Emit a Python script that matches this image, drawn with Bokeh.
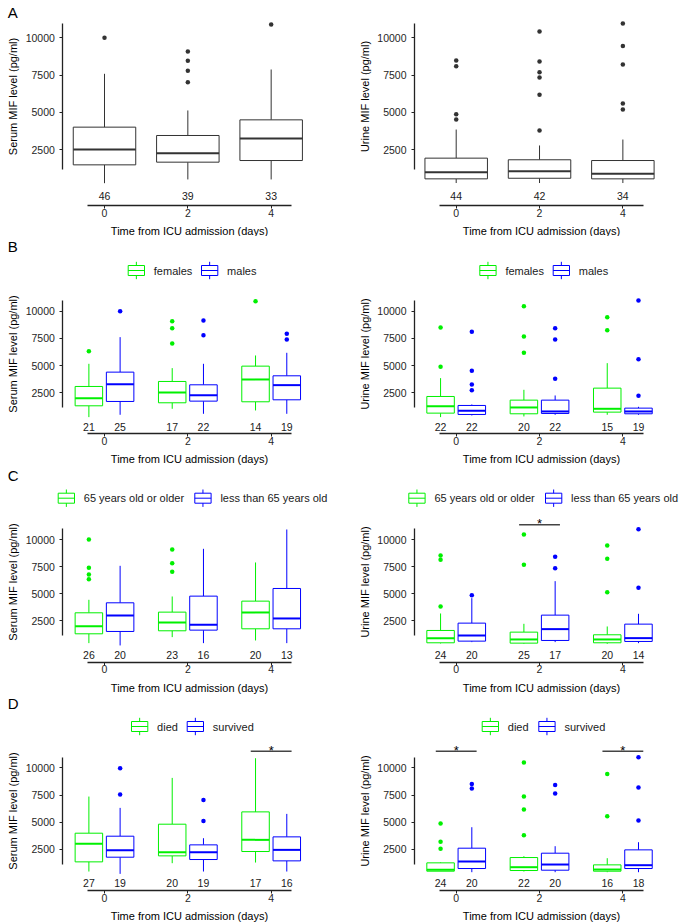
from bokeh.plotting import figure
from bokeh.models import Range1d, LinearAxis, FixedTicker, ColumnDataSource
from bokeh.layouts import gridplot
from bokeh.embed import file_html
from bokeh.resources import INLINE
from bokeh.core.properties import value

# ---------------- data ----------------
days = ["0", "2", "4"]
# box statistics per day: (lower whisker, Q1, median, Q3, upper whisker)
serum_all = [(240, 1470, 2500, 4000, 7580), (490, 1650, 2250, 3440, 5120), (490, 1760, 3240, 4490, 7870)]
serum_all_out = [[10000], [9080, 8460, 7790, 7020], [10890]]
serum_all_n = [46, 39, 33]
urine_all = [(250, 530, 980, 1920, 3840), (250, 570, 1040, 1810, 2770), (250, 530, 870, 1760, 3170)]
urine_all_out = [[8480, 8090, 4870, 4520], [10420, 8410, 7690, 7340, 6170, 3780], [10960, 9440, 8210, 5590, 5190]]
urine_all_n = [44, 42, 34]

serum_females = [(265, 1306, 2010, 3082, 5163), (1031, 1582, 2531, 3541, 4765), (878, 1674, 3724, 4949, 5928)]
serum_females_out = [[6326], [9081, 8438, 7030], [10918]]
serum_females_n = [21, 17, 14]
serum_males = [(480, 1704, 3296, 4398, 7612), (571, 1735, 2286, 3235, 5163), (571, 1857, 3204, 4061, 6173)]
serum_males_out = [[10000], [9142, 7796], [7918, 7398]]
serum_males_n = [25, 22, 19]
urine_females = [(265, 633, 1276, 2163, 3847), (327, 572, 1153, 1827, 2775), (480, 725, 1031, 2929, 5224)]
urine_females_out = [[8500, 4888], [10459, 7673, 6173], [9448, 8255]]
urine_females_n = [22, 20, 15]
urine_males = [(418, 510, 847, 1337, 1429), (480, 602, 786, 1827, 2255), (480, 572, 786, 1092, 1214)]
urine_males_out = [[8102, 4520, 3265, 2745], [8438, 7398, 3786], [10979, 5592, 2225]]
urine_males_n = [22, 22, 19]

serum_old = [(440, 1301, 2008, 3238, 4437), (994, 1578, 2346, 3299, 4744), (686, 1762, 3269, 4314, 7880)]
serum_old_out = [[10000, 7388, 6773, 6343], [9078, 7818, 7019], []]
serum_old_n = [26, 23, 20]
serum_young = [(225, 1516, 2992, 4160, 7572), (440, 1639, 2131, 4775, 9140), (440, 1762, 2715, 5482, 10923)]
serum_young_out = [[], [], []]
serum_young_n = [20, 16, 13]
urine_old = [(410, 471, 901, 1609, 3176), (379, 440, 779, 1455, 2223), (379, 471, 779, 1209, 1977)]
urine_old_out = [[8525, 8125, 3822], [10462, 7664], [9447, 8218, 5144]]
urine_old_n = [24, 25, 20]
urine_young = [(533, 625, 1147, 2285, 4590), (533, 686, 1732, 3023, 6158), (440, 594, 901, 2193, 3145)]
urine_young_out = [[4867], [8402, 7357], [10954, 5543]]
urine_young_n = [20, 17, 14]

serum_died = [(440, 1332, 2992, 3976, 7357), (1209, 1885, 2223, 4806, 9078), (1270, 2285, 3361, 5943, 10892)]
serum_died_out = [[], [], []]
serum_died_n = [27, 20, 17]
serum_surv = [(225, 1762, 2408, 3699, 6312), (440, 1547, 2223, 2900, 3514), (440, 1424, 2438, 3637, 5758)]
serum_surv_out = [[9970, 7541], [7050, 5113], []]
serum_surv_n = [19, 19, 16]
urine_died = [(471, 471, 594, 1240, 1301), (441, 533, 840, 1731, 1854), (379, 471, 625, 1055, 1670)]
urine_died_out = [[4867, 3176, 2531], [10492, 7357, 6158, 3791], [9447, 5543]]
urine_died_n = [24, 22, 16]
urine_surv = [(379, 717, 1363, 2592, 4529), (379, 563, 1086, 2131, 2777), (379, 717, 1024, 2438, 3145)]
urine_surv_out = [[8525, 8095], [8433, 7634], [10984, 8187, 5144]]
urine_surv_n = [20, 20, 18]

y_ticks = [2500, 5000, 7500, 10000]
x_title = "Time from ICU admission (days)"
serum_title = "Serum MIF level (pg/ml)"
urine_title = "Urine MIF level (pg/ml)"

# ---------------- styling / layout ----------------
FONT = "Liberation Sans"
GREEN = "#00F000"
BLUE = "#0000FF"
GREY = "#333333"
PX_X = 83.33
COLS = [dict(left=0, width=340, c0=104.0), dict(left=340, width=345, c0=455.7)]
ROWS = {
    "A": dict(top=0, bottom=236, t2500=149.0, p2500=37.25, axis=205.0, count=195.0, letter=12.3, legend=None),
    "B": dict(top=236, bottom=466, t2500=392.3, p2500=27.22, axis=433.3, count=426.0, letter=246.0, legend=270.0),
    "C": dict(top=466, bottom=696, t2500=620.3, p2500=27.1, axis=661.7, count=654.3, letter=475.0, legend=497.7),
    "D": dict(top=696, bottom=923, t2500=848.7, p2500=27.1, axis=890.3, count=882.7, letter=703.3, legend=726.0),
}


def make_panel(row, col, ylabel, groups, letter=None, legend=None, sig=None):
    R = ROWS[row]
    C = COLS[col]
    upp = 2500.0 / R["p2500"]

    def xd(ax):
        return 1 + (ax - C["c0"]) / PX_X

    def yd(ay):
        return 2500 + (R["t2500"] - ay) * upp

    p = figure(width=C["width"], height=R["bottom"] - R["top"],
               x_range=Range1d(xd(C["left"]), xd(C["left"] + C["width"])),
               y_range=Range1d(yd(R["bottom"]), yd(R["top"])),
               x_axis_type=None, y_axis_type=None, toolbar_location=None,
               output_backend="svg", min_border=0)
    p.outline_line_color = None
    p.background_fill_color = "white"
    p.border_fill_color = "white"

    ng = len(groups)
    if ng == 1:
        offsets, bw = [0.0], 0.75
    else:
        offsets, bw = [-0.1875, 0.1875], 0.33

    count_x, count_t = [], []
    for (stats, outs, ns, color, mcolor), off in zip(groups, offsets):
        xs = [i + 1 + off for i in range(len(days))]
        src = ColumnDataSource(dict(
            x=xs, lo=[s[0] for s in stats], q1=[s[1] for s in stats], med=[s[2] for s in stats],
            q3=[s[3] for s in stats], hi=[s[4] for s in stats],
            xl=[x - bw / 2 for x in xs], xr=[x + bw / 2 for x in xs]))
        p.segment(x0="x", y0="q3", x1="x", y1="hi", source=src, line_color=color, line_width=1)
        p.segment(x0="x", y0="lo", x1="x", y1="q1", source=src, line_color=color, line_width=1)
        p.vbar(x="x", width=bw, top="q3", bottom="q1", source=src, fill_color="white",
               line_color=color, line_width=1)
        p.segment(x0="xl", y0="med", x1="xr", y1="med", source=src, line_color=color, line_width=2)
        ox = [x for x, o in zip(xs, outs) for _ in o]
        oy = [v for o in outs for v in o]
        if ox:
            p.scatter(ox, oy, size=4.5, fill_color=mcolor, line_color=None)
        count_x += xs
        count_t += [str(n) for n in ns]

    p.text(x=count_x, y=[yd(R["count"])] * len(count_x), text=count_t, text_align="center",
           text_baseline="middle", text_font=value(FONT), text_font_size="10.5px", text_color="#1a1a1a")

    if letter:
        p.text(x=[xd(7.3)], y=[yd(R["letter"])], text=[letter], text_align="left",
               text_baseline="middle", text_font=value(FONT), text_font_size="15px", text_color="black")

    if legend:
        ly = R["legend"]
        for (kx, label, color) in legend:
            p.quad(left=[xd(kx)], right=[xd(kx + 16.3)], bottom=[yd(ly + 5)], top=[yd(ly - 5)],
                   fill_color="white", line_color=color, line_width=1)
            p.segment(x0=[xd(kx + 8.15)] * 2, x1=[xd(kx + 8.15)] * 2,
                      y0=[yd(ly - 5), yd(ly + 5)], y1=[yd(ly - 8.7), yd(ly + 8.7)],
                      line_color=color, line_width=1)
            p.segment(x0=[xd(kx)], x1=[xd(kx + 16.3)], y0=[yd(ly)], y1=[yd(ly)],
                      line_color=color, line_width=1)
            p.text(x=[xd(kx + 25.6)], y=[yd(ly)], text=[label], text_align="left",
                   text_baseline="middle", text_font=value(FONT), text_font_size="11px",
                   text_color="#1a1a1a")

    if sig:
        bar_abs, day_idx = sig
        for d in day_idx:
            p.segment(x0=[d - 0.245], x1=[d + 0.245], y0=[yd(bar_abs)], y1=[yd(bar_abs)],
                      line_color="#444444", line_width=1.4)
            p.text(x=[d], y=[yd(bar_abs - 1.2)], text=["*"], text_align="center",
                   text_baseline="alphabetic", text_font=value(FONT), text_font_size="13px",
                   text_color="black")

    yaxis = LinearAxis(fixed_location=0.5, bounds=(1130, 10975),
                       ticker=FixedTicker(ticks=y_ticks), axis_label=ylabel)
    xaxis = LinearAxis(fixed_location=yd(R["axis"]), bounds=(0.8, 3.25),
                       ticker=FixedTicker(ticks=[1, 2, 3]),
                       major_label_overrides={1: days[0], 2: days[1], 3: days[2]},
                       axis_label=x_title)
    for ax in (yaxis, xaxis):
        ax.axis_line_color = "#222222"
        ax.axis_line_width = 1.3
        ax.major_tick_line_color = "#222222"
        ax.major_tick_out = 3
        ax.major_tick_in = 0
        ax.minor_tick_out = 0
        ax.minor_tick_in = 0
        ax.major_label_text_font = FONT
        ax.major_label_text_font_size = "10.5px"
        ax.major_label_text_color = "#262626"
        ax.axis_label_text_font = FONT
        ax.axis_label_text_font_size = "11px"
        ax.axis_label_text_font_style = "normal"
        ax.axis_label_text_color = "black"
    yaxis.major_label_standoff = 5
    yaxis.axis_label_standoff = 3
    xaxis.major_label_standoff = 0
    xaxis.axis_label_standoff = 5
    p.add_layout(yaxis, "left")
    p.add_layout(xaxis, "below")
    return p


grey = lambda s, o, n: (s, o, n, GREY, GREY)
pA1 = make_panel("A", 0, serum_title, [grey(serum_all, serum_all_out, serum_all_n)], letter="A")
pA2 = make_panel("A", 1, urine_title, [grey(urine_all, urine_all_out, urine_all_n)])

pB1 = make_panel("B", 0, serum_title,
                 [(serum_females, serum_females_out, serum_females_n, GREEN, GREEN),
                  (serum_males, serum_males_out, serum_males_n, BLUE, BLUE)], letter="B",
                 legend=[(127.7, "females", GREEN), (201.0, "males", BLUE)])
pB2 = make_panel("B", 1, urine_title,
                 [(urine_females, urine_females_out, urine_females_n, GREEN, GREEN),
                  (urine_males, urine_males_out, urine_males_n, BLUE, BLUE)],
                 legend=[(479.3, "females", GREEN), (552.7, "males", BLUE)])

pC1 = make_panel("C", 0, serum_title,
                 [(serum_old, serum_old_out, serum_old_n, GREEN, GREEN),
                  (serum_young, serum_young_out, serum_young_n, BLUE, BLUE)], letter="C",
                 legend=[(57.7, "65 years old or older", GREEN), (194.3, "less than 65 years old", BLUE)])
pC2 = make_panel("C", 1, urine_title,
                 [(urine_old, urine_old_out, urine_old_n, GREEN, GREEN),
                  (urine_young, urine_young_out, urine_young_n, BLUE, BLUE)],
                 legend=[(408.3, "65 years old or older", GREEN), (545.0, "less than 65 years old", BLUE)],
                 sig=(524.3, [2]))

pD1 = make_panel("D", 0, serum_title,
                 [(serum_died, serum_died_out, serum_died_n, GREEN, GREEN),
                  (serum_surv, serum_surv_out, serum_surv_n, BLUE, BLUE)], letter="D",
                 legend=[(131.0, "died", GREEN), (186.7, "survived", BLUE)],
                 sig=(750.7, [3]))
pD2 = make_panel("D", 1, urine_title,
                 [(urine_died, urine_died_out, urine_died_n, GREEN, GREEN),
                  (urine_surv, urine_surv_out, urine_surv_n, BLUE, BLUE)],
                 legend=[(481.7, "died", GREEN), (538.3, "survived", BLUE)],
                 sig=(750.7, [1, 3]))

grid = gridplot([[pA1, pA2], [pB1, pB2], [pC1, pC2], [pD1, pD2]], toolbar_location=None)

open("out.html", "w").write(file_html(grid, INLINE))
